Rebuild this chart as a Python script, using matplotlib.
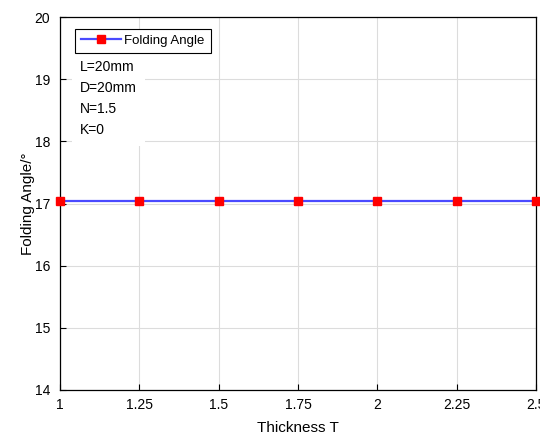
import matplotlib.pyplot as plt

thickness = [1, 1.25, 1.5, 1.75, 2, 2.25, 2.5]
folding_angle = [17.04, 17.04, 17.04, 17.04, 17.04, 17.04, 17.04]
xtick_labels = ['1', '1.25', '1.5', '1.75', '2', '2.25', '2.5']
params = ['L=20mm', 'D=20mm', 'N=1.5', 'K=0']

plt.rcParams['font.family'] = ['Liberation Sans', 'DejaVu Sans']

fig = plt.figure(figsize=(5.4, 4.34), dpi=100)
ax = fig.add_axes([0.111, 0.1014, 0.8816, 0.8594])

ax.plot(thickness, folding_angle, color='#4a4aff', linewidth=1.6,
        marker='s', markersize=5.8, markerfacecolor='red', markeredgecolor='red',
        label='Folding Angle', clip_on=False, zorder=5)

ax.set_xlim(1, 2.5)
ax.set_ylim(14, 20)
ax.set_xticks(thickness)
ax.set_xticklabels(xtick_labels)
ax.set_yticks(range(14, 21))
ax.grid(True, color='#dcdcdc', linewidth=0.8)
ax.set_axisbelow(True)
ax.tick_params(direction='in', labelsize=10, length=4, width=0.8)
ax.tick_params(axis='x', pad=6)
ax.tick_params(axis='y', pad=7)
for s in ax.spines.values():
    s.set_linewidth(0.9)

ax.set_xlabel('Thickness T', fontsize=11, labelpad=6)
ax.set_ylabel('Folding Angle/°', fontsize=11, labelpad=0)

leg = ax.legend(loc='upper left', fontsize=9.5, fancybox=False, framealpha=1,
                edgecolor='black', borderaxespad=0.6, handlelength=3.0,
                handletextpad=0.3, borderpad=0.45,
                bbox_to_anchor=(0.015, 0.99))
leg.get_frame().set_linewidth(0.8)

ax.text(0.042, 0.885, '\n'.join(params), transform=ax.transAxes, fontsize=10,
        va='top', ha='left', linespacing=1.65,
        bbox=dict(facecolor='white', edgecolor='none', pad=6))

fig.savefig('out.png', dpi=100)
